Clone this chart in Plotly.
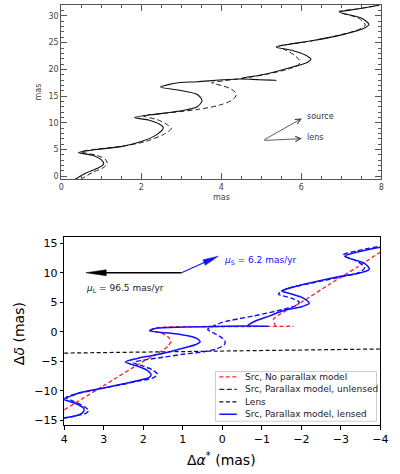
import plotly.graph_objects as go

W, H = 400, 474

# ---------------- Top panel (IDL style) : source trajectory, mas ----------------
top_lensed_x = [0.34, 0.62, 0.90, 1.06, 1.00, 0.80, 0.43, 0.87, 1.52, 2.00, 2.39, 2.55, 2.45, 2.20, 1.83,
                2.24, 3.04, 3.40, 3.52, 3.40, 2.95, 2.48, 2.70, 2.92, 3.40, 4.43, 5.37, 4.50, 5.10, 5.80,
                6.15, 6.24, 6.10, 5.80, 5.37, 5.70, 6.30, 7.08, 7.57, 7.69, 7.50, 6.96, 7.40, 7.95]
top_lensed_y = [-0.6, 0.6, 1.5, 2.3, 3.1, 3.9, 4.45, 5.0, 5.6, 6.5, 7.8, 9.1, 9.8, 10.5, 11.0,
                11.5, 12.3, 13.0, 14.2, 15.3, 16.1, 16.7, 17.2, 17.5, 17.7, 18.2, 17.95, 18.3, 19.1, 20.5,
                21.3, 21.9, 22.7, 23.5, 24.2, 24.7, 25.4, 26.6, 27.7, 28.4, 29.6, 30.7, 31.3, 32.0]
top_unlensed_x = [0.48, 0.80, 1.05, 1.15, 1.10, 0.90, 0.50, 0.90, 1.50, 2.10, 2.55, 2.75, 2.62, 2.40, 2.05,
                  2.60, 3.40, 3.95, 4.28, 4.38, 4.25, 4.05, 3.76, 4.10, 4.60, 5.20, 5.65, 5.92, 5.97, 5.85,
                  5.70, 5.45, 5.80, 6.30, 7.00, 7.45, 7.60, 7.45, 6.94, 7.40, 7.95]
top_unlensed_y = [-0.6, 0.8, 1.6, 2.4, 3.2, 3.9, 4.6, 5.1, 5.6, 6.5, 7.8, 8.9, 9.8, 10.6, 11.3,
                  11.8, 12.5, 13.3, 14.3, 15.4, 16.3, 16.9, 17.5, 17.9, 18.4, 19.2, 20.0, 20.8, 21.5, 22.5,
                  23.3, 24.3, 24.8, 25.4, 26.5, 27.5, 28.3, 29.5, 30.8, 31.3, 32.0]
top_x_ticks = [0, 2, 4, 6, 8]
top_y_ticks = [0, 5, 10, 15, 20, 25, 30]
top_arrow_base = (5.04, 6.7)
top_arrow_source = (6.01, 10.8)
top_arrow_lens = (6.01, 7.05)

# ---------------- Bottom panel : model trajectories, mas ----------------
red_x = [4.00, 3.00, 2.00, 1.60, 1.38, 1.30, 1.38, 1.55, 1.78, 1.75, 1.45, 1.00, 0.30, -0.50, -1.20, -1.80,
         None, -1.35, -1.32, -1.30, -1.60, -2.00, -2.70, -3.40, -4.00]
red_y = [-13.2, -9.1, -5.0, -3.5, -2.5, -1.6, -0.8, -0.2, 0.2, 0.55, 0.8, 0.88, 0.9, 0.9, 0.92, 0.95,
         None, 0.95, 1.4, 2.2, 3.5, 5.0, 8.0, 10.9, 13.5]

blue_unl_x = [4.05, 3.70, 3.45, 3.38, 3.50, 3.75, 3.95, 3.70, 3.20, 2.60, 2.10, 1.75, 1.64, 1.75, 2.00,
              2.25, 2.00, 1.50, 1.00, 0.50, 0.15, -0.05, -0.07, 0.05, 0.25, 0.37, 0.25, 0.00, -0.80, -1.55,
              -1.88, -1.95, -1.75, -1.42, -1.64, -2.30, -3.00, -3.45, -3.60, -3.45, -3.06, -3.40, -4.00]
blue_unl_y = [-14.7, -14.2, -13.8, -13.3, -12.6, -11.8, -11.1, -10.5, -9.8, -9.0, -8.3, -7.8, -7.2, -6.5, -5.8,
              -5.2, -4.8, -4.3, -3.8, -3.4, -2.9, -2.2, -1.6, -0.8, -0.1, 0.4, 0.9, 1.6, 2.7, 3.8,
              4.5, 5.0, 5.7, 6.4, 7.3, 8.3, 9.3, 10.0, 10.8, 11.8, 13.0, 13.7, 14.5]

blue_len_x = [4.05, 3.70, 3.52, 3.50, 3.65, 3.90, 4.02, 3.80, 3.60, 3.00, 2.50, 2.10, 1.85, 1.80, 1.88,
              2.10, 2.45, 2.15, 1.76, 1.35, 0.95, 0.65, 0.56, 0.65, 0.93, 1.35, 1.84, 1.67, 0.93, -0.12,
              -0.60, -1.15, -0.65, -0.80, -1.20, -1.60, -2.03, -2.20, -2.05, -1.70, -1.50, -1.80, -2.30, -3.00,
              -3.50, -3.72, -3.60, -3.10, -3.48, -4.00]
blue_len_y = [-14.6, -14.2, -13.6, -13.0, -12.3, -11.7, -11.4, -10.8, -10.3, -9.5, -8.8, -8.2, -7.7, -7.3, -6.6,
              -5.9, -5.1, -4.5, -4.0, -3.4, -2.7, -2.1, -1.7, -1.1, -0.6, -0.2, 0.15, 0.6, 0.8, 0.95,
              1.0, 0.95, 1.05, 1.7, 2.7, 3.7, 4.3, 4.8, 5.7, 6.5, 6.9, 7.6, 8.4, 9.4,
              10.0, 10.6, 11.6, 12.8, 13.6, 14.3]

lens_x = [4.0, -4.0]
lens_y = [-3.6, -2.9]

bot_x_ticks = [4, 3, 2, 1, 0, -1, -2, -3, -4]
bot_y_ticks = [-15, -10, -5, 0, 5, 10, 15]

lens_pm_arrow = (1.03, 10.0, 3.45, 10.0)      # start x, y, tip x, y
src_pm_arrow = (1.03, 10.0, 0.10, 12.8)
lens_pm_label = "<i>μ</i><sub>L</sub> = 96.5 mas/yr"
src_pm_label = "<i>μ</i><sub>S</sub> = 6.2 mas/yr"

legend_labels = ["Src, No parallax model", "Src, Parallax model, unlensed", "Lens",
                 "Src, Parallax model, lensed"]

# ---------------- layout geometry ----------------
TOP_XD = [59 / W, 389 / W]
TOP_YD = [1 - 180 / H, 1 - 5 / H]
TOP_XR = [0, 8]
TOP_YR = [-0.55, 32.05]
BOT_XD = [62 / W, 388 / W]
BOT_YD = [1 - 427 / H, 1 - 238 / H]
BOT_XR = [4, -4]
BOT_YR = [-15.8, 16.05]

BLUE = "#1010ff"
RED = "#ff2020"
FONT = "DejaVu Sans"


def px2paper(px, py):
    return px / W, 1 - py / H


def arrow_head(x0, y0, x1, y1, length_px, half_w_px, sx, sy):
    dxp = (x1 - x0) * sx
    dyp = (y1 - y0) * sy
    n = (dxp ** 2 + dyp ** 2) ** 0.5
    ux, uy = dxp / n, dyp / n
    bx, by = -ux * length_px, -uy * length_px
    qx, qy = -uy, ux
    pts = [(0, 0), (bx + qx * half_w_px, by + qy * half_w_px),
           (bx - qx * half_w_px, by - qy * half_w_px), (0, 0)]
    xs = [x1 + p[0] / sx for p in pts]
    ys = [y1 + p[1] / sy for p in pts]
    base = (x1 + 0.8 * bx / sx, y1 + 0.8 * by / sy)
    return xs, ys, base


fig = go.Figure()

# top panel curves
fig.add_trace(go.Scatter(x=top_unlensed_x, y=top_unlensed_y, mode="lines", xaxis="x", yaxis="y",
                         line=dict(color="#222", width=1, dash="5px,3px", shape="spline", smoothing=0.8),
                         name="unlensed", showlegend=False))
fig.add_trace(go.Scatter(x=top_lensed_x, y=top_lensed_y, mode="lines", xaxis="x", yaxis="y",
                         line=dict(color="#111", width=1.1, shape="spline", smoothing=0.8),
                         name="lensed", showlegend=False))

# bottom panel curves
fig.add_trace(go.Scatter(x=red_x, y=red_y, mode="lines", xaxis="x2", yaxis="y2",
                         line=dict(color=RED, width=1.3, dash="4px,2.5px", shape="spline", smoothing=0.7),
                         name=legend_labels[0], showlegend=False))
fig.add_trace(go.Scatter(x=blue_unl_x, y=blue_unl_y, mode="lines", xaxis="x2", yaxis="y2",
                         line=dict(color=BLUE, width=1.4, dash="5px,2.5px", shape="spline", smoothing=0.8),
                         name=legend_labels[1], showlegend=False))
fig.add_trace(go.Scatter(x=lens_x, y=lens_y, mode="lines", xaxis="x2", yaxis="y2",
                         line=dict(color="#111", width=1.2, dash="4px,2.5px"),
                         name=legend_labels[2], showlegend=False))
fig.add_trace(go.Scatter(x=blue_len_x, y=blue_len_y, mode="lines", xaxis="x2", yaxis="y2",
                         line=dict(color=BLUE, width=1.5, shape="spline", smoothing=0.8),
                         name=legend_labels[3], showlegend=False))

# proper motion arrows (bottom)
sx = (BOT_XD[1] - BOT_XD[0]) * W / (BOT_XR[1] - BOT_XR[0])
sy = (BOT_YD[1] - BOT_YD[0]) * H / (BOT_YR[1] - BOT_YR[0])
for arr, col, L, hw, lw in [(lens_pm_arrow, "black", 21, 3.0, 1.5), (src_pm_arrow, BLUE, 16, 3.0, 1.1)]:
    hx, hy, base = arrow_head(arr[0], arr[1], arr[2], arr[3], L, hw, sx, sy)
    fig.add_trace(go.Scatter(x=[arr[0], base[0]], y=[arr[1], base[1]], mode="lines", xaxis="x2", yaxis="y2",
                             line=dict(color=col, width=lw), showlegend=False, hoverinfo="skip"))
    fig.add_trace(go.Scatter(x=hx, y=hy, mode="lines", fill="toself", fillcolor=col, xaxis="x2", yaxis="y2",
                             line=dict(color=col, width=0.5), showlegend=False, hoverinfo="skip"))

annotations = []
# top arrows
for tip in (top_arrow_source, top_arrow_lens):
    annotations.append(dict(x=tip[0], y=tip[1], ax=top_arrow_base[0], ay=top_arrow_base[1],
                            xref="x", yref="y", axref="x", ayref="y", text="", showarrow=True,
                            arrowhead=5, arrowsize=1.3, arrowwidth=0.8, arrowcolor="#333"))
annotations.append(dict(x=top_arrow_source[0] + 0.07, y=top_arrow_source[1] + 0.4, xref="x", yref="y",
                        text="source", showarrow=False, xanchor="left", yanchor="middle",
                        font=dict(family=FONT, size=8, color="#333")))
annotations.append(dict(x=top_arrow_lens[0] + 0.07, y=top_arrow_lens[1] + 0.2, xref="x", yref="y",
                        text="lens", showarrow=False, xanchor="left", yanchor="middle",
                        font=dict(family=FONT, size=8, color="#333")))
# top axis titles
px, py = px2paper(36, 92)
annotations.append(dict(x=px, y=py, xref="paper", yref="paper", text="mas", textangle=-90, showarrow=False,
                        xanchor="center", yanchor="middle",
                        font=dict(family=FONT, size=8, color="#444")))
px, py = px2paper(224, 198)
annotations.append(dict(x=px, y=py, xref="paper", yref="paper", text="mas", showarrow=False,
                        xanchor="center", yanchor="middle",
                        font=dict(family=FONT, size=8, color="#444")))
# bottom axis titles
px, py = px2paper(15, 335)
annotations.append(dict(x=px, y=py, xref="paper", yref="paper", text="Δ<i>δ</i> (mas)", textangle=-90,
                        xanchor="center", yanchor="middle",
                        showarrow=False, font=dict(family=FONT, size=14, color="black")))
px, py = px2paper(224, 461)
annotations.append(dict(x=px, y=py, xref="paper", yref="paper", text="Δ<i>α</i><sup>*</sup> (mas)",
                        xanchor="center", yanchor="middle",
                        showarrow=False, font=dict(family=FONT, size=14, color="black")))
# pm labels
annotations.append(dict(x=3.5, y=7.4, xref="x2", yref="y2", text=lens_pm_label, showarrow=False,
                        xanchor="left", yanchor="middle", font=dict(family=FONT, size=9, color="#222")))
annotations.append(dict(x=0.0, y=12.1, xref="x2", yref="y2", text=src_pm_label, showarrow=False,
                        xanchor="left", yanchor="middle", font=dict(family=FONT, size=9, color=BLUE)))

# manual legend (matplotlib-like compact box)
shapes = []
x0, y0 = px2paper(218, 373)
x1, y1 = px2paper(384, 423)
shapes.append(dict(type="rect", xref="paper", yref="paper", x0=x0, y0=y1, x1=x1, y1=y0,
                   line=dict(color="#cccccc", width=1), fillcolor="rgba(255,255,255,0.85)", layer="above"))
leg_styles = [(RED, "4px,2.5px", 1.3), (BLUE, "5px,2.5px", 1.4), ("#111", "4px,2.5px", 1.2), (BLUE, "solid", 1.5)]
row_y = [378.5, 391.0, 403.5, 416.0]
for lab, (col, dash, lw), ry in zip(legend_labels, leg_styles, row_y):
    lx0, ly = px2paper(222, ry)
    lx1, _ = px2paper(240, ry)
    shapes.append(dict(type="line", xref="paper", yref="paper", x0=lx0, x1=lx1, y0=ly, y1=ly,
                       line=dict(color=col, width=lw, dash=dash), layer="above"))
    tx, _ = px2paper(246.5, ry)
    annotations.append(dict(x=tx, y=ly, xref="paper", yref="paper", text=lab, showarrow=False,
                            xanchor="left", yanchor="middle", font=dict(family=FONT, size=9.0, color="#222")))

top_axis_common = dict(showline=True, linecolor="#555", linewidth=1, mirror="allticks", ticks="inside",
                       ticklen=6, tickwidth=1, tickcolor="#555", showgrid=False, zeroline=False,
                       tickfont=dict(family=FONT, size=8, color="#444"))
bot_axis_common = dict(showline=True, linecolor="black", linewidth=1, mirror=True, ticks="outside",
                       ticklen=3.5, tickwidth=0.9, tickcolor="black", showgrid=False, zeroline=False,
                       tickfont=dict(family=FONT, size=11, color="black"))

fig.update_layout(
    width=W, height=H, margin=dict(l=0, r=0, t=0, b=0),
    paper_bgcolor="white", plot_bgcolor="white", showlegend=False,
    xaxis=dict(domain=TOP_XD, range=TOP_XR, anchor="y", tickvals=top_x_ticks,
               minor=dict(ticks="inside", dtick=0.5, ticklen=3, tickcolor="#555"), **top_axis_common),
    yaxis=dict(domain=TOP_YD, range=TOP_YR, anchor="x", tickvals=top_y_ticks,
               minor=dict(ticks="inside", dtick=1, ticklen=3, tickcolor="#555"), **top_axis_common),
    xaxis2=dict(domain=BOT_XD, range=BOT_XR, anchor="y2", tickvals=bot_x_ticks,
                ticktext=[str(v).replace("-", "−") for v in bot_x_ticks], **bot_axis_common),
    yaxis2=dict(domain=BOT_YD, range=BOT_YR, anchor="x2", tickvals=bot_y_ticks,
                ticktext=[str(v).replace("-", "−") for v in bot_y_ticks], **bot_axis_common),
    annotations=annotations, shapes=shapes,
)

fig.write_html("out.html")
